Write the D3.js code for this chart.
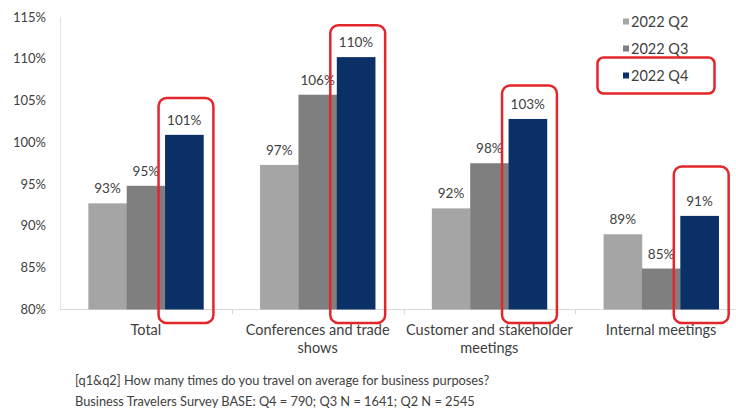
<!DOCTYPE html>
<html><head><meta charset="utf-8">
<script src="https://cdn.jsdelivr.net/npm/d3@7"></script>
<style>
body{margin:0;background:#fff;}
svg text{font-family:Lato,"Open Sans",sans-serif;fill:#404040;}
</style></head>
<body><svg id="c" width="736" height="417"></svg>
<script>
const categories = [["Total"],["Conferences and trade","shows"],["Customer and stakeholder","meetings"],["Internal meetings"]];
const seriesNames = ["2022 Q2","2022 Q3","2022 Q4"];
const q2 = [92.7, 97.3, 92.1, 89.0];
const q3 = [94.8, 105.7, 97.5, 84.9];
const q4 = [100.9, 110.2, 102.8, 91.2];
const valueLabels = [["93%","95%","101%"],["97%","106%","110%"],["92%","98%","103%"],["89%","85%","91%"]];
const highlightTop = [105.3, 114.0, 106.8, 97.1];
const yTicks = [80,85,90,95,100,105,110,115];
const footnotes = ["[q1&q2] How many times do you travel on average for business purposes?","Business Travelers Survey BASE: Q4 = 790; Q3 N = 1641; Q2 N = 2545"];
const colors = ["#a5a5a5","#7f7f7f","#0b3067"];

const svg = d3.select("#c");
const series = [q2,q3,q4];
const x0 = d3.scaleBand().domain(d3.range(categories.length)).range([60,747]).paddingInner(0.33).paddingOuter(0.165);
const x1 = d3.scaleBand().domain(d3.range(3)).range([0,x0.bandwidth()]);
const y = d3.scaleLinear().domain([80,115]).range([309.5,17]);

// axis lines
svg.append("line").attr("x1",60.5).attr("x2",60.5).attr("y1",17).attr("y2",309.5).attr("stroke","#e3e3e3");
svg.append("line").attr("x1",60).attr("x2",736).attr("y1",309.5).attr("y2",309.5).attr("stroke","#d9d9d9");
// category separators
d3.range(1,categories.length).forEach(i=>{
  const xx = Math.round(x0(i) - x0.step()*x0.paddingInner()/2)+0.5;
  svg.append("line").attr("x1",xx).attr("x2",xx).attr("y1",309.5).attr("y2",314).attr("stroke","#d9d9d9");
});
// y ticks
const ya = svg.append("g");
yTicks.forEach(t=>{
  ya.append("text").attr("x",46).attr("y",y(t)).attr("dy","0.35em").attr("text-anchor","end")
    .style("font-size","13px").text(t+"%");
});

// bars
const groups = svg.selectAll("g.grp").data(categories).enter().append("g").attr("class","grp")
  .attr("transform",(d,i)=>`translate(${x0(i)},0)`);
groups.each(function(d,i){
  const g = d3.select(this);
  series.forEach((s,k)=>{
    g.append("rect").attr("x",x1(k)).attr("width",x1.bandwidth()+0.3).attr("y",y(s[i])).attr("height",y(80)-y(s[i])).attr("fill",colors[k]);
  });
  series.forEach((s,k)=>{
    g.append("text").attr("x",x1(k)+x1.bandwidth()/2).attr("y",y(s[i])-10).attr("text-anchor","middle")
      .style("font-size","13.5px").text(valueLabels[i][k]);
  });
  // category label
  const t = g.append("text").attr("text-anchor","middle").style("font-size","14.5px");
  d.forEach((line,j)=>{
    t.append("tspan").attr("x",x0.bandwidth()/2).attr("y",335+j*18).text(line);
  });
  // highlight box
  g.append("rect").attr("x",x1(2)-6.5).attr("width",x1.bandwidth()+16.5)
    .attr("y",y(highlightTop[i])).attr("height",323-y(highlightTop[i]))
    .attr("rx",8).attr("fill","none").attr("stroke","#e3262b").attr("stroke-width",2.5);
});

// legend
const lg = svg.append("g");
seriesNames.forEach((n,k)=>{
  const yy = 21.5 + k*27;
  lg.append("rect").attr("x",623).attr("y",yy-3).attr("width",6).attr("height",6).attr("fill",colors[k]);
  lg.append("text").attr("x",631).attr("y",yy).attr("dy","0.35em").style("font-size","14.5px").text(n);
});
lg.append("rect").attr("x",597.5).attr("y",57.5).attr("width",117).attr("height",36).attr("rx",6)
  .attr("fill","none").attr("stroke","#e3262b").attr("stroke-width",2.5);

// footnotes
footnotes.forEach((f,i)=>{
  svg.append("text").attr("x",75).attr("y",381+i*21).attr("dy","0.35em").style("font-size","12.8px").text(f);
});
</script></body></html>
